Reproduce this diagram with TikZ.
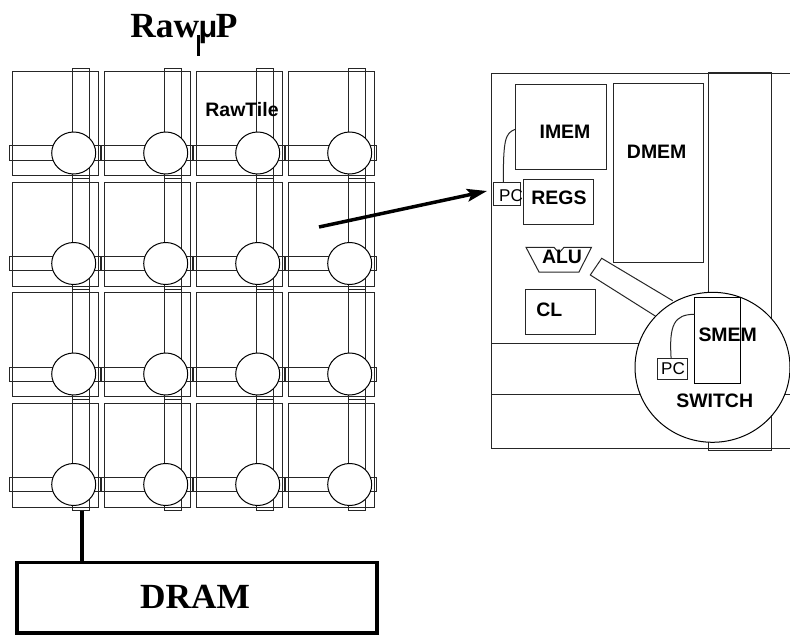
\documentclass[tikz,border=0pt]{standalone}
\usepackage{fontspec}
\setmainfont{Liberation Serif}
\setsansfont{Liberation Sans}
\usepackage{tikz}
\usetikzlibrary{arrows.meta,positioning,shapes.geometric,calc}
\tikzset{
  thinline/.style={draw=black!85, line width=0.75pt},
  blockbox/.style 2 args={thinline, anchor=north west, inner sep=0pt, outer sep=0pt,
    minimum width=#1*0.75pt, minimum height=#2*0.75pt},
  blocklabel/.style={font=\fontsize{14.6}{16}\selectfont\sffamily\bfseries, inner sep=0pt},
  pclabel/.style={font=\fontsize{12.8}{14}\selectfont\sffamily, inner sep=0pt},
  serifbig/.style={font=\fontsize{26.5}{30}\selectfont\rmfamily\bfseries, inner sep=0pt},
  routerdisc/.style={ellipse, thinline, draw=black, fill=white, inner sep=0pt, outer sep=0pt,
    minimum width=44*0.75pt, minimum height=42*0.75pt},
  heavyline/.style={draw=black, line width=2.6pt},
}
\begin{document}
\begin{tikzpicture}[x=0.75pt,y=-0.75pt]
  \useasboundingbox (0,0) rectangle (790,635);

  % Tile array
  \foreach \col in {0,...,3} {
    \foreach \row in {0,...,3} {
      \begin{scope}[shift={(\col*92,\row*110.5)}]
        \draw[thinline] (12,71.7) rectangle (98,175.5);
        \draw[thinline] (72.3,68.3) rectangle (89.7,178.5);
        \draw[thinline] (9.3,146) rectangle (100.7,160.3);
        \node[routerdisc] (router-\col-\row) at (73.7,153) {};
      \end{scope}
    }
  }
  \node[serifbig, anchor=base] (title) at (184,37.7)
    {Raw{\sffamily\fontsize{23}{30}\selectfont\kern-0.5pt μ\kern-1pt}P};
  \draw[line width=2pt] (198.2,35) -- (198.2,56);
  \node[blocklabel] (rawtile) at (242,110) {RawTile};

  % External memory
  \node[blockbox={360}{70.5}, heavyline, fill=white] (dram) at (17,562.7) {};
  \node[serifbig] (dramlabel) at (195,597) {DRAM};
  \coordinate (dramtap) at (82,510.7);
  \draw[heavyline] (dramtap) -- (dramtap |- dram.north);

  % Tile outline
  \draw[thinline] (790,73.7) -- (491,73.7) -- (491,448) -- (790,448);
  \draw[thinline] (491,343.3) -- (771,343.3);
  \draw[thinline] (491,394.7) -- (790,394.7);
  \draw[thinline] (708,450) -- (708,72.7) -- (771,72.7) -- (771,450) -- cycle;

  % Processor
  \node[blockbox={91.4}{85.7}] (imem) at (515.3,84.3) {};
  \node[blocklabel] (imemlabel) at (565,131.7) {IMEM};
  \node[blockbox={90}{178.3}] (dmem) at (613.7,83.7) {};
  \node[blocklabel] (dmemlabel) at (656.7,152) {DMEM};
  \node[blockbox={70}{44.7}] (regs) at (523.3,180) {};
  \node[blocklabel] (regslabel) at (559,197.7) {REGS};
  \node[blockbox={27}{22.6}] (pcreg) at (493.3,182.7) {};
  \node[pclabel] (pclabel) at (511,196) {PC};
  \draw[thinline] ([xshift=-2.6pt]pcreg.north) .. controls (503.3,140) and (505,133) .. (imem.west |- 0,129.3);
  \node[blockbox={69.7}{44.7}] (cl) at (525.3,289.3) {};
  \node[blocklabel] (cllabel) at (549.3,309.3) {CL};

  \draw[thinline] (526,247.3) -- (554,247.3) -- (559,253) -- (564,247.3) -- (591.5,247.3)
    -- (579,272) -- (539,272) -- cycle;
  \node[blocklabel] (alulabel) at (562,257) {ALU};

  \draw[thinline] (672.7,300.7) -- (601.7,258.3) -- (590.3,275) -- (660,319);

  % Switch
  \node[ellipse, thinline, draw=black, fill=white, inner sep=0pt,
    minimum width=155*0.75pt, minimum height=150*0.75pt] (switch) at (712.5,367.3) {};
  \node[blockbox={45.6}{86}, draw=black] (smem) at (694.7,297.3) {};
  \node[blocklabel] (smemlabel) at (727.7,335) {SMEM};
  \node[blockbox={30}{21.4}] (swpc) at (657.7,358.3) {};
  \node[pclabel] (swpclabel) at (673,369) {PC};
  \draw[thinline] ([xshift=-1.2pt]swpc.north) .. controls (669,325) and (674,314.3) .. (smem.west |- 0,314.3);
  \node[blocklabel] (switchlabel) at (714.7,400.7) {SWITCH};

  % Zoom arrow
  \coordinate (zoomfrom) at (319,227);
  \coordinate (zoomto) at (487,191);
  \draw[-{Stealth[length=15pt,width=9.5pt,inset=3pt]}, heavyline] (zoomfrom) -- (zoomto);
\end{tikzpicture}
\end{document}
